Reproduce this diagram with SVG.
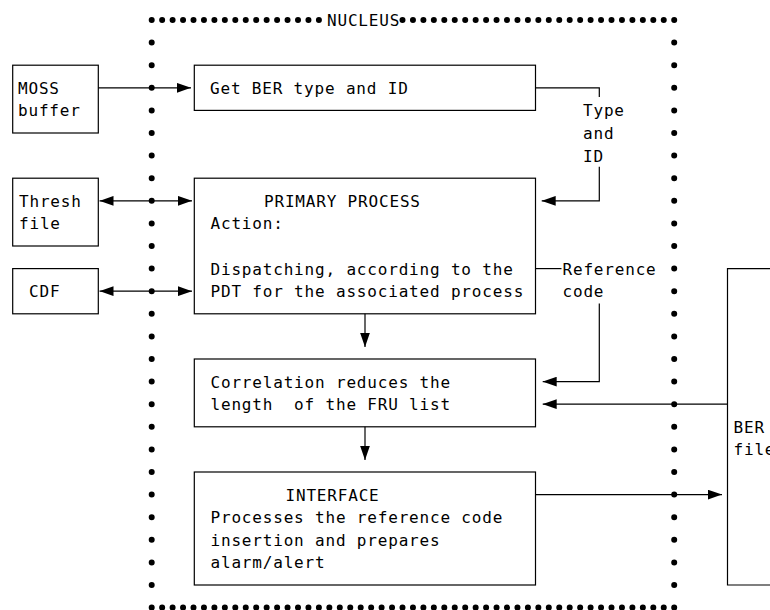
<svg xmlns="http://www.w3.org/2000/svg" width="770" height="610" viewBox="0 0 770 610">
<style>
  .bg{fill:#fff}
  .box{fill:none;stroke:#000;stroke-width:1.2}
  .t{font-family:"DejaVu Sans Mono","Liberation Mono",monospace;font-size:16px;letter-spacing:0.82px;fill:#000;white-space:pre}
  .ln{fill:none;stroke:#000;stroke-width:1.2}
  .dh{fill:none;stroke:#000;stroke-width:6;stroke-linecap:round;stroke-dasharray:0 10.45}
  .dv{fill:none;stroke:#000;stroke-width:6;stroke-linecap:round;stroke-dasharray:0 22.6}
</style>
<defs>
  <marker id="ah" markerUnits="userSpaceOnUse" markerWidth="14" markerHeight="10" viewBox="0 0 13 9" refX="13" refY="4.5" orient="auto-start-reverse">
    <path d="M0,0 L13,4.5 L0,9 z" fill="#000"/>
  </marker>
</defs>
<rect class="bg" x="0" y="0" width="770" height="610"/>

<g id="nucleus">
  <path class="dh" d="M151.7,20 H319"/>
  <path class="dh" d="M402.5,20 H674.3"/>
  <path class="dh" d="M151.7,607.6 H674.3"/>
  <path class="dv" d="M151.7,42.6 V585.1"/>
  <path class="dv" d="M674.2,42.6 V585.1"/>
  <text class="t" x="327" y="26">NUCLEUS</text>
</g>

<g id="moss-buffer">
  <rect class="box" x="12.7" y="65.2" width="85.6" height="67.8"/>
  <text class="t" x="18" y="93.8">MOSS</text>
  <text class="t" x="18" y="116.4">buffer</text>
</g>

<g id="thresh-file">
  <rect class="box" x="12.7" y="178.2" width="85.6" height="67.8"/>
  <text class="t" x="19" y="206.8">Thresh</text>
  <text class="t" x="19" y="229.4">file</text>
</g>

<g id="cdf">
  <rect class="box" x="12.7" y="268.6" width="85.6" height="45.2"/>
  <text class="t" x="29" y="297.2">CDF</text>
</g>

<g id="get-ber">
  <rect class="box" x="194.3" y="65.2" width="341.2" height="45.2"/>
  <text class="t" x="210" y="93.8">Get BER type and ID</text>
</g>

<g id="primary-process">
  <rect class="box" x="194.3" y="178.2" width="341.2" height="135.6"/>
  <text class="t" x="264" y="206.8">PRIMARY PROCESS</text>
  <text class="t" x="210.5" y="229.4">Action:</text>
  <text class="t" x="210.5" y="274.6">Dispatching, according to the</text>
  <text class="t" x="210.5" y="297.2">PDT for the associated process</text>
</g>

<g id="correlation">
  <rect class="box" x="194.3" y="359" width="341.2" height="67.8"/>
  <text class="t" x="210.5" y="387.6">Correlation reduces the</text>
  <text class="t" x="210.5" y="410.2">length  of the FRU list</text>
</g>

<g id="interface">
  <rect class="box" x="194.3" y="472" width="341.2" height="113"/>
  <text class="t" x="285.5" y="500.6">INTERFACE</text>
  <text class="t" x="210.5" y="523.2">Processes the reference code</text>
  <text class="t" x="210.5" y="545.8">insertion and prepares</text>
  <text class="t" x="210.5" y="568.4">alarm/alert</text>
</g>

<g id="ber-file">
  <path class="box" d="M775,268.6 H727.5 V585 H775"/>
  <text class="t" x="733.5" y="432.8">BER</text>
  <text class="t" x="733.5" y="455.4">file</text>
</g>

<g id="connectors">
  <path class="ln" d="M98.3,87.8 H191" marker-end="url(#ah)"/>
  <path class="ln" d="M99.5,200.8 H192" marker-start="url(#ah)" marker-end="url(#ah)"/>
  <path class="ln" d="M99.5,291.2 H192" marker-start="url(#ah)" marker-end="url(#ah)"/>
  <path class="ln" d="M535.5,87.8 H599.3 V97"/>
  <text class="t" x="583" y="116.4">Type</text>
  <text class="t" x="583" y="139">and</text>
  <text class="t" x="583" y="161.6">ID</text>
  <path class="ln" d="M599.3,166.7 V200.8 H541.7" marker-end="url(#ah)"/>
  <path class="ln" d="M535.5,268.6 H561.5"/>
  <text class="t" x="562.5" y="274.6">Reference</text>
  <text class="t" x="562.5" y="297.2">code</text>
  <path class="ln" d="M599.3,303.5 V381.6 H542.7" marker-end="url(#ah)"/>
  <path class="ln" d="M727.5,404.2 H542.7" marker-end="url(#ah)"/>
  <path class="ln" d="M365,313.8 V347" marker-end="url(#ah)"/>
  <path class="ln" d="M365,426.8 V460" marker-end="url(#ah)"/>
  <path class="ln" d="M535.5,494.6 H722" marker-end="url(#ah)"/>
</g>
</svg>
